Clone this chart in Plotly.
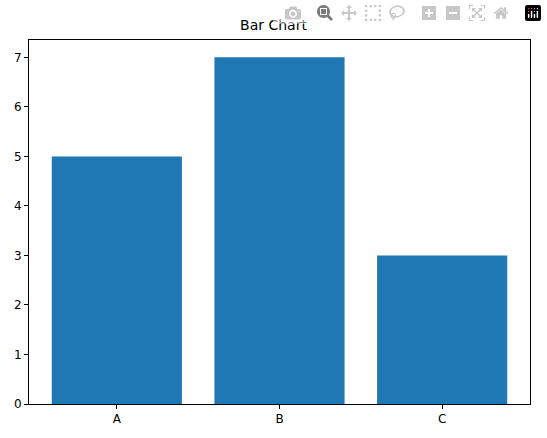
import plotly.graph_objects as go

categories = ["A", "B", "C"]
values = [5, 7, 3]

fig = go.Figure()
fig.add_trace(go.Bar(x=[0, 1, 2], y=values, width=0.8, marker_color="#1f77b4",
                     marker_line_width=0))

axis_style = dict(showline=True, linecolor="black", linewidth=1, mirror=True,
                  ticks="outside", ticklen=4, tickcolor="black", showgrid=False,
                  zeroline=False, tickfont=dict(size=12, color="black"))

fig.update_layout(
    width=547, height=438,
    margin=dict(l=29, r=17, t=40, b=29),
    paper_bgcolor="white", plot_bgcolor="white",
    font=dict(family="DejaVu Sans", color="black"),
    title=dict(text="Bar Chart", x=0.5, xanchor="center", y=1 - 25 / 438,
               yanchor="middle", font=dict(size=14)),
    showlegend=False,
)
fig.update_xaxes(range=[-0.54, 2.54], tickvals=[0, 1, 2], ticktext=categories, **axis_style)
fig.update_yaxes(range=[0, 7.35], dtick=1, **axis_style)

fig.write_html("out.html", post_script="document.body.style.margin='0';")
